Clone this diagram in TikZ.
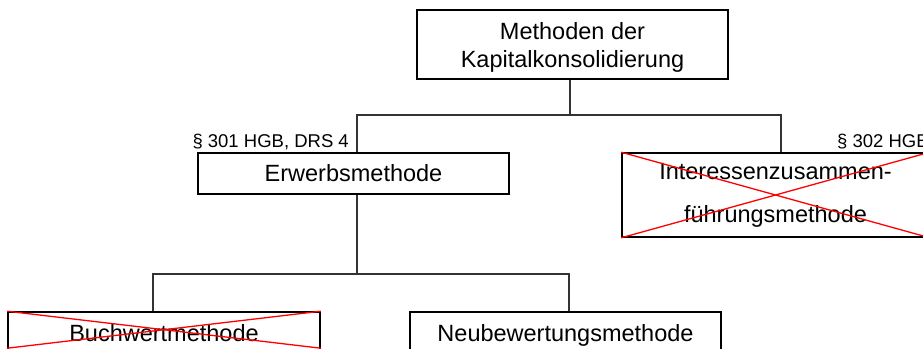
\documentclass[tikz,border=0pt]{standalone}
\usepackage{fontspec}
\setmainfont{Liberation Sans}
\begin{document}
\begin{tikzpicture}[x=1pt,y=-1pt,
  box/.style={draw=black,line width=1.6pt,inner sep=0pt,align=center,
    font=\fontsize{23.5}{28}\selectfont},
  conn/.style={draw=black!80,line width=1.4pt},
  cross/.style={draw=red,line width=1.3pt},
  lbl/.style={inner sep=0pt,font=\fontsize{18.5}{22}\selectfont}]
\clip (0,0) rectangle (923,348);
\fill[white] (0,0) rectangle (923,348);
% boxes
\node[box,minimum width=311pt,minimum height=69pt,text depth=0pt] (top) at (572.5,44.5)
  {Methoden der\\Kapitalkonsolidierung};
\node[box,minimum width=311pt,minimum height=41pt] (erw) at (353.5,173.5)
  {Erwerbsmethode};
\node[box,minimum width=307pt,minimum height=84pt,
  font=\fontsize{23.5}{43}\selectfont] (int) at (775.5,195)
  {Interessenzusammen-\\führungsmethode};
\node[box,minimum width=312pt,minimum height=42pt,text depth=0pt] (buch) at (164,333)
  {Buchwertmethode};
\node[box,minimum width=311pt,minimum height=42pt,text depth=0pt] (neu) at (565.5,333)
  {Neubewertungsmethode};
% red crosses
\draw[cross] (int.north west) -- (int.south east);
\draw[cross] (int.south west) -- (int.north east);
\draw[cross] (buch.north west) -- ([yshift=-37pt]buch.north east);
\draw[cross] ([yshift=-37pt]buch.north west) -- (buch.north east);
% junction coordinates
\coordinate (j1) at (570,115);
\coordinate (jl) at (357,115);
\coordinate (jr) at (781,115);
\coordinate (j2) at (357,274);
\coordinate (jbl) at (153,274);
\coordinate (jbr) at (569,274);
% connectors
\draw[conn] (top.south -| j1) -- (j1);
\draw[conn] (erw.north -| jl) -- (jl) -- (jr) -- (int.north -| jr);
\draw[conn] (erw.south -| j2) -- (j2);
\draw[conn] (buch.north -| jbl) -- (jbl) -- (jbr) -- (neu.north -| jbr);
% labels
\node[lbl,anchor=base east] (l1) at (349,147) {§ 301 HGB, DRS 4};
\node[lbl,anchor=base west] (l2) at (837,147) {§ 302 HGB};
\end{tikzpicture}
\end{document}
